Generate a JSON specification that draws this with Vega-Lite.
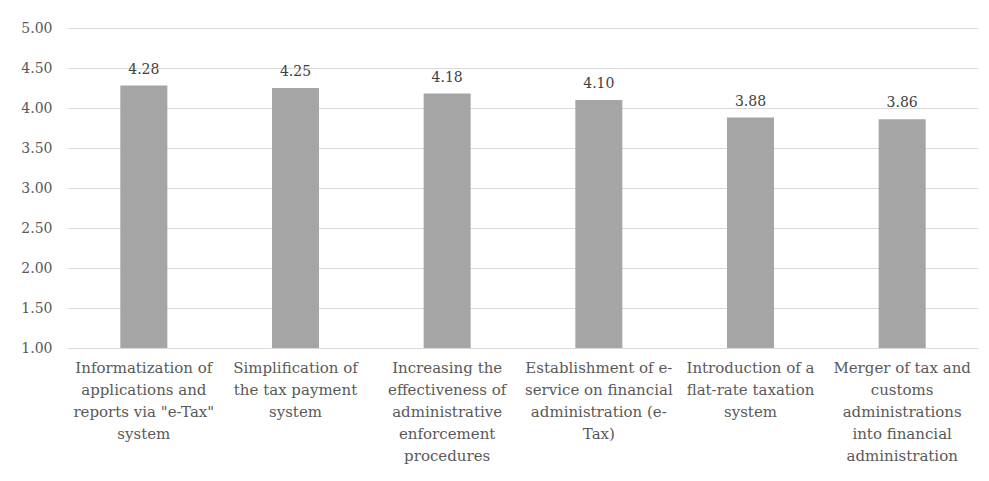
{
  "$schema": "https://vega.github.io/schema/vega-lite/v6.json",
  "autosize": {"type": "none"},
  "padding": {"left": 68, "top": 28, "right": 11, "bottom": 133},
  "width": 910,
  "height": 320,
  "background": "#ffffff",
  "data": {
    "values": [
      {"measure": "Informatization of|applications and|reports via \"e-Tax\"|system", "score": 4.28},
      {"measure": "Simplification of|the tax payment|system", "score": 4.25},
      {"measure": "Increasing the|effectiveness of|administrative|enforcement|procedures", "score": 4.18},
      {"measure": "Establishment of e-|service on financial|administration (e-|Tax)", "score": 4.10},
      {"measure": "Introduction of a|flat-rate taxation|system", "score": 3.88},
      {"measure": "Merger of tax and|customs|administrations|into financial|administration", "score": 3.86}
    ]
  },
  "encoding": {
    "x": {
      "field": "measure",
      "type": "nominal",
      "sort": null,
      "scale": {"paddingInner": 0.69, "paddingOuter": 0.345},
      "axis": {
        "title": null,
        "labelAngle": 0,
        "labelExpr": "split(datum.label, '|')",
        "labelFont": "DejaVu Serif, serif",
        "labelFontSize": 15,
        "labelColor": "#595959",
        "labelLineHeight": 22,
        "labelBaseline": "top",
        "labelPadding": 12,
        "labelLimit": 200,
        "ticks": false,
        "domainColor": "#d9d9d9",
        "domainWidth": 1
      }
    },
    "y": {
      "field": "score",
      "type": "quantitative",
      "scale": {"domain": [1, 5], "zero": false, "nice": false},
      "axis": {
        "title": null,
        "values": [1, 1.5, 2, 2.5, 3, 3.5, 4, 4.5, 5],
        "format": ".2f",
        "labelFont": "DejaVu Serif, serif",
        "labelFontSize": 14,
        "labelColor": "#595959",
        "labelPadding": 16,
        "ticks": false,
        "domain": false,
        "gridColor": "#d9d9d9",
        "gridWidth": 1
      }
    }
  },
  "layer": [
    {"mark": {"type": "bar", "color": "#a5a5a5"}, "encoding": {"y2": {"datum": 1}}},
    {
      "mark": {"type": "text", "baseline": "bottom", "dy": -9, "font": "DejaVu Serif, serif", "fontSize": 14, "color": "#404040"},
      "encoding": {"text": {"field": "score", "type": "quantitative", "format": ".2f"}}
    }
  ],
  "config": {"view": {"stroke": null}}
}
